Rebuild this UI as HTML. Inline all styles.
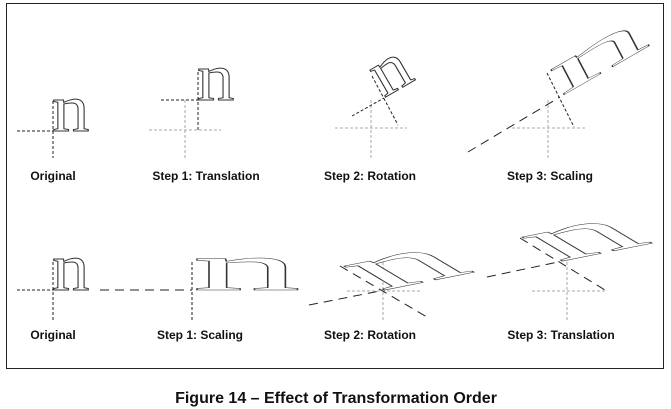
<!DOCTYPE html>
<html><head><meta charset="utf-8"><style>
html,body{margin:0;padding:0;background:#fff;}
svg{display:block;}
.lbl{font-family:"Liberation Sans",sans-serif;font-weight:bold;font-size:12px;fill:#111;text-anchor:middle;}
.n{font-family:"Liberation Serif",serif;font-size:68px;fill:#fff;stroke:#333;stroke-width:1;}
.k{stroke:#222;stroke-width:1;stroke-dasharray:3 2;fill:none;}
.kl{stroke:#222;stroke-width:1;stroke-dasharray:9 6;fill:none;}
.g{stroke:#aaa;stroke-width:1;stroke-dasharray:3 2;fill:none;}
</style></head><body>
<svg width="671" height="409" viewBox="0 0 671 409" xmlns="http://www.w3.org/2000/svg">
<rect x="6.5" y="3.5" width="657" height="365" fill="none" stroke="#222" stroke-width="1"/>

<!-- Row 1 Original -->
<line class="k" x1="17" y1="131" x2="53" y2="131"/>
<line class="k" x1="53" y1="101" x2="53" y2="158"/>
<text class="n" x="0" y="0" transform="matrix(1.1,0,0,1,52,131)">n</text>
<text class="lbl" x="53" y="180">Original</text>

<!-- Row 1 Step1 -->
<line class="g" x1="149" y1="130" x2="221" y2="130"/>
<line class="g" x1="185" y1="100" x2="185" y2="160"/>
<line class="k" x1="161" y1="100" x2="198" y2="100"/>
<line class="k" x1="198" y1="72" x2="198" y2="130"/>
<text class="n" x="0" y="0" transform="matrix(1.1,0,0,1,197,100)">n</text>
<text class="lbl" x="206" y="180">Step 1: Translation</text>

<!-- Row 1 Step2 -->
<line class="g" x1="335" y1="128" x2="407" y2="128"/>
<line class="g" x1="371" y1="100" x2="371" y2="158"/>
<line class="k" x1="352" y1="116" x2="384" y2="98"/>
<line class="k" x1="372" y1="76" x2="398" y2="125"/>
<text class="n" x="0" y="0" transform="translate(384,98) rotate(-30) scale(1.1,1)">n</text>
<text class="lbl" x="370" y="180">Step 2: Rotation</text>

<!-- Row 1 Step3 -->
<line class="g" x1="512" y1="128" x2="585" y2="128"/>
<line class="g" x1="548" y1="100" x2="548" y2="158"/>
<line class="kl" x1="468" y1="152" x2="560" y2="97"/>
<line class="k" x1="547" y1="73" x2="574" y2="127"/>
<text class="n" x="0" y="0" style="stroke-width:0.5" transform="matrix(2.7,-1.55,0.42,0.8,560,97)">n</text>
<text class="lbl" x="550" y="180">Step 3: Scaling</text>

<!-- Row 2 Original -->
<line class="k" x1="17" y1="290" x2="53" y2="290"/>
<line class="k" x1="53" y1="262" x2="53" y2="322"/>
<text class="n" x="0" y="0" transform="matrix(1.1,0,0,1,52,290)">n</text>
<text class="lbl" x="53" y="339">Original</text>

<!-- Row 2 Step1 -->
<line class="kl" x1="100" y1="290" x2="192" y2="290"/>
<line class="k" x1="192" y1="262" x2="192" y2="322"/>
<text class="n" x="0" y="0" style="stroke-width:0.5" transform="matrix(3.2,0,0,1,192,290)">n</text>
<text class="lbl" x="200" y="339">Step 1: Scaling</text>

<!-- Row 2 Step2 -->
<line class="g" x1="347" y1="291" x2="420" y2="291"/>
<line class="g" x1="383" y1="262" x2="383" y2="322"/>
<line class="kl" x1="309" y1="305" x2="380" y2="291"/>
<line class="kl" x1="340" y1="266" x2="427" y2="317"/>
<text class="n" x="0" y="0" style="stroke-width:0.5" transform="matrix(2.85,-0.57,1.29,0.77,380,291)">n</text>
<text class="lbl" x="370" y="339">Step 2: Rotation</text>

<!-- Row 2 Step3 -->
<line class="g" x1="532" y1="291" x2="605" y2="291"/>
<line class="g" x1="567" y1="262" x2="567" y2="320"/>
<line class="kl" x1="487" y1="277" x2="558" y2="262"/>
<line class="kl" x1="520" y1="238" x2="605" y2="290"/>
<text class="n" x="0" y="0" style="stroke-width:0.5" transform="matrix(2.85,-0.57,1.29,0.77,558,262)">n</text>
<text class="lbl" x="561" y="339">Step 3: Translation</text>

<text x="336" y="403" text-anchor="middle" style="font-family:'Liberation Sans',sans-serif;font-weight:bold;font-size:16px;fill:#111;">Figure 14 –  Effect of Transformation Order</text>
</svg>
</body></html>
